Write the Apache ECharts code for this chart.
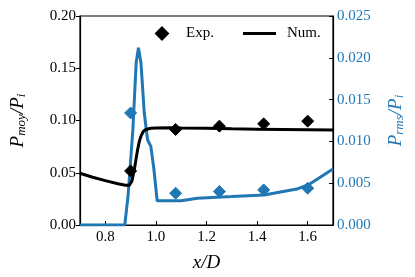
<!DOCTYPE html>
<html>
<head>
<meta charset="utf-8">
<script src="https://cdn.jsdelivr.net/npm/echarts@6/dist/echarts.min.js"></script>
<style>html,body{margin:0;padding:0;background:#fff;}#c{width:415px;height:277px;}</style>
</head>
<body>
<div id="c"></div>
<script>
// x positions of the numerical curves
const numX = [0.70,0.75,0.80,0.85,0.88,0.895,0.905,0.915,0.922,0.928,0.935,0.941,0.95,0.96,0.98,1.00,1.06,1.10,1.20,1.30,1.40,1.50,1.60,1.70];
const numMoy = [0.0495,0.0457,0.0425,0.0395,0.0381,0.0380,0.0420,0.0533,0.0640,0.0724,0.0805,0.0850,0.0895,0.0914,0.0925,0.0929,0.0930,0.0928,0.0925,0.0920,0.0917,0.0914,0.0911,0.0908];
const rmsX = [0.70,0.877,0.890,0.909,0.922,0.931,0.941,0.954,0.967,0.980,0.992,1.005,1.012,1.10,1.164,1.30,1.428,1.557,1.608,1.70];
const numRms = [0,0,0.0035,0.0114,0.0194,0.0212,0.0194,0.0134,0.0102,0.0094,0.0067,0.0029,0.0027,0.0029,0.0032,0.0034,0.0036,0.0043,0.0049,0.0067];
// experimental points
const expX = [0.90,1.078,1.251,1.426,1.600];
const expMoy = [0.0517,0.0914,0.0946,0.0968,0.0994];
const expRms = [0.0134,0.0038,0.0040,0.0042,0.0044];
// tick labels
const xTicks = [0.8,1.0,1.2,1.4,1.6];

const zip = (a,b) => a.map((v,i)=>[v,b[i]]);
const BLUE = '#1f77b4';
const FF = 'Liberation Serif';

const chart = echarts.init(document.getElementById('c'));
const mkRich = (c) => ({
  i:{fontFamily:FF,fontStyle:'italic',fontSize:19,color:c},
  s:{fontFamily:FF,fontStyle:'italic',fontSize:13,color:c,verticalAlign:'bottom',padding:[8,0,0,0]},
  n:{fontFamily:FF,fontStyle:'italic',fontSize:19,color:c}
});
chart.setOption({
  animation:false,
  grid:{left:74,right:82,top:16,bottom:51,show:true,borderColor:'#000',borderWidth:1.2,backgroundColor:'transparent'},
  legend:[
    {data:['Exp.'],left:150,top:21,icon:'diamond',itemWidth:12,itemHeight:12,itemGap:0,
     textStyle:{fontFamily:FF,fontSize:15,color:'#000',padding:[0,0,0,13]}},
    {data:['Num.'],left:238,top:21,icon:'rect',itemWidth:33,itemHeight:3,
     textStyle:{fontFamily:FF,fontSize:15,color:'#000',padding:[0,0,0,6]}}
  ],
  xAxis:{type:'value',min:0.7,max:1.7,
    axisLine:{lineStyle:{color:'#000',width:1.2}},
    axisTick:{inside:true,length:4,customValues:xTicks,lineStyle:{color:'#000'}},
    axisLabel:{customValues:xTicks,formatter:v=>v.toFixed(1),fontFamily:FF,fontSize:15,color:'#000',margin:5},
    splitLine:{show:false},
    name:'{i|x}{n|/}{i|D}',nameLocation:'middle',nameGap:28,
    nameTextStyle:{rich:mkRich('#000')}
  },
  yAxis:[
    {type:'value',min:0,max:0.2,interval:0.05,position:'left',
     axisLine:{show:true,lineStyle:{color:'#000',width:1.2}},
     axisTick:{show:true,inside:false,length:4,lineStyle:{color:'#000'}},
     axisLabel:{formatter:v=>v.toFixed(2),fontFamily:FF,fontSize:15,color:'#000',margin:4},
     splitLine:{show:false},
     name:'{i|P}{s|moy}{n|/}{i|P}{s|i}',nameLocation:'middle',nameGap:52,nameRotate:90,
     nameTextStyle:{color:'#000',rich:mkRich('#000')}
    },
    {type:'value',min:0,max:0.025,interval:0.005,position:'right',
     axisLine:{show:true,lineStyle:{color:'#000',width:1.2}},
     axisTick:{show:true,inside:true,length:4,lineStyle:{color:'#000'}},
     axisLabel:{formatter:v=>v.toFixed(3),fontFamily:FF,fontSize:15,color:BLUE,margin:4},
     splitLine:{show:false},
     name:'{i|P}{s|rms}{n|/}{i|P}{s|i}',nameLocation:'middle',nameGap:52,nameRotate:90,
     nameTextStyle:{color:BLUE,rich:mkRich(BLUE)}
    }
  ],
  series:[
    {name:'Num. rms',type:'line',yAxisIndex:1,data:zip(rmsX,numRms),showSymbol:false,clip:true,
     lineStyle:{color:BLUE,width:3},itemStyle:{color:BLUE},z:2},
    {name:'Num.',type:'line',yAxisIndex:0,data:zip(numX,numMoy),showSymbol:false,
     lineStyle:{color:'#000',width:3},itemStyle:{color:'#000'},z:3},
    {name:'Exp. rms',type:'scatter',yAxisIndex:1,data:zip(expX,expRms),symbol:'diamond',symbolSize:12,
     itemStyle:{color:BLUE,opacity:1,borderColor:BLUE,borderWidth:1},z:4},
    {name:'Exp.',type:'scatter',yAxisIndex:0,data:zip(expX,expMoy),symbol:'diamond',symbolSize:12,
     itemStyle:{color:'#000',opacity:1,borderColor:'#000',borderWidth:1},z:5}
  ]
});
</script>
</body>
</html>
